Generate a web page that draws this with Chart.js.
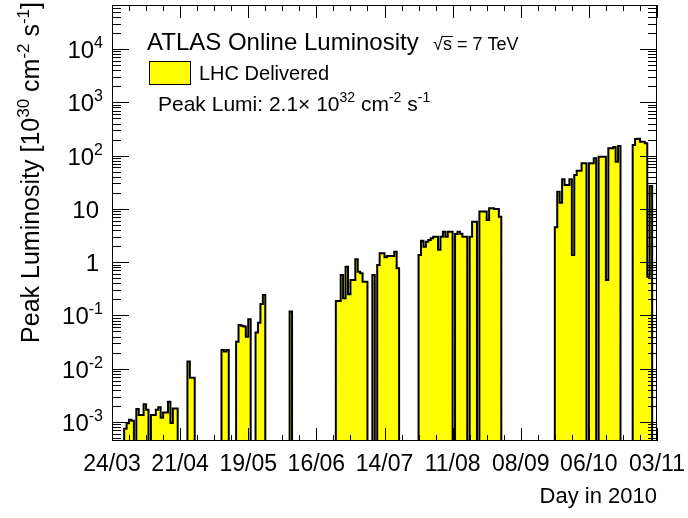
<!DOCTYPE html>
<html>
<head>
<meta charset="utf-8">
<title>ATLAS Online Luminosity 2010</title>
<script src="https://cdn.jsdelivr.net/npm/chart.js@4.4.1/dist/chart.umd.min.js"></script>
<style>
  html, body { margin: 0; padding: 0; background: #fff; }
  #wrap { width: 688px; height: 518px; position: relative; }
</style>
</head>
<body>
<div id="wrap"><canvas id="lumi"></canvas></div>
<script>
/* Peak luminosity per day, 2010 pp run at 7 TeV.
   Days are counted from 24/03 (day 0); days not listed had no stable beams. */
const TICK_LABELS = ['24/03', '21/04', '19/05', '16/06', '14/07', '11/08', '08/09', '06/10', '03/11'];
const LABEL_STEP = 28;   // days between labelled ticks
const MINOR_STEP = 7;
const N_DAYS = 224;

const BEAM_DAY = [
  5, 6, 7, 8,
  10, 11, 12, 13, 14,
  16, 17, 18, 19, 20, 21, 22, 23, 24, 25, 26,
  31, 32, 33,
  45, 46, 47,
  51, 52, 53, 54, 55, 56,
  59, 60, 61, 62,
  73,
  92, 93, 94, 95, 96, 97, 98, 99, 100, 101, 102, 103, 104,
  107,
  109, 110, 111, 112, 113, 114, 115, 116, 117,
  126, 127, 128, 129, 130, 131, 132, 133, 134, 135, 136, 137, 138, 139,
  141, 142, 143, 144, 145,
  147, 148, 149,
  151, 152, 153, 154, 155, 156, 157, 158, 159,
  182, 183, 184, 185, 186, 187, 188, 189, 190, 191, 192, 193, 194,
  196, 197, 198,
  200, 201, 202, 203, 204, 205, 206, 207, 208,
  214, 215, 216, 217, 218, 219, 220, 221
];
// [10^30 cm^-2 s^-1]
const PEAK_LUMI = [
  7.5e-4, 9.5e-4, 1.1e-3, 1.05e-3,
  1.75e-3, 1.35e-3, 1.35e-3, 2.15e-3, 1.7e-3,
  1.35e-3, 1.35e-3, 1.7e-3, 1.9e-3, 1.2e-3, 1.5e-3, 1.5e-3, 2.4e-3, 9.6e-4, 1.8e-3, 1.8e-3,
  0.0136, 0.0068, 0.0068,
  0.0225, 0.021, 0.0225,
  0.032, 0.066, 0.064, 0.062, 0.040, 0.085,
  0.048, 0.073, 0.164, 0.243,
  0.118,
  0.187, 0.187, 0.575, 0.21, 0.82, 0.25, 0.46, 0.46, 1.13, 0.66, 0.62, 0.43, 0.43,
  0.575,
  0.885, 1.47, 1.47, 1.24, 1.3, 1.3, 1.3, 1.57, 0.77,
  1.36, 2.53, 1.95, 2.42, 2.6, 2.8, 3.0, 3.0, 1.7, 3.0, 3.73, 3.0, 3.73, 3.73,
  3.38, 3.73, 3.4, 3.0, 3.0,
  3.0, 5.75, 5.75,
  8.9, 8.9, 8.9, 6.2, 10.3, 10.3, 9.9, 9.9, 7.1,
  4.5, 21, 13, 36, 28, 28, 36, 1.36, 43, 52, 52, 72, 72,
  72, 72, 89,
  95, 95, 95, 0.46, 137, 137, 145, 77, 151,
  158, 205, 207, 182, 182, 170, 0.53, 27
];

const Y_MIN = 4.4e-4;
const Y_MAX = 6.7e4;
const EMPTY = 1e-7;   // below the axis: empty days drop to the frame

const FONT = '"Liberation Sans", Arial, Helvetica, sans-serif';

// histogram outline: both edges of every day bin, so the steps are exact
const lumiByDay = new Array(N_DAYS).fill(EMPTY);
BEAM_DAY.forEach(function (d, i) { lumiByDay[d] = PEAK_LUMI[i]; });
const histPoints = [];
lumiByDay.forEach(function (v, d) {
  histPoints.push({ x: d, y: v });
  histPoints.push({ x: d + 1, y: v });
});

/* text with superscripts; parts = [[text, isSup], ...] */
function richWidth(ctx, parts, size) {
  let w = 0;
  parts.forEach(function (p) {
    ctx.font = (p[1] ? Math.round(size * 0.68) : size) + 'px ' + FONT;
    w += ctx.measureText(p[0]).width;
  });
  return w;
}

function drawRich(ctx, parts, x, y, size, align) {
  let cx = x;
  if (align === 'right') cx = x - richWidth(ctx, parts, size);
  else if (align === 'center') cx = x - richWidth(ctx, parts, size) / 2;
  ctx.textAlign = 'left';
  ctx.textBaseline = 'alphabetic';
  parts.forEach(function (p) {
    const sup = p[1];
    ctx.font = (sup ? Math.round(size * 0.68) : size) + 'px ' + FONT;
    ctx.fillText(p[0], cx, sup ? y - size * 0.42 : y);
    cx += ctx.measureText(p[0]).width;
  });
}

/* ROOT-style frame: ticks on all four sides pointing inwards, labels and captions */
const rootFrame = {
  id: 'rootFrame',
  afterDraw: function (chart) {
    const ctx = chart.ctx;
    const a = chart.chartArea;
    const xs = chart.scales.x;
    const ys = chart.scales.y;

    ctx.save();
    ctx.strokeStyle = '#000';
    ctx.fillStyle = '#000';
    ctx.lineWidth = 1;

    ctx.strokeRect(a.left + 0.5, a.top + 0.5, a.right - a.left - 1, a.bottom - a.top - 1);

    // y ticks: decades and 2..9 subdivisions
    ctx.beginPath();
    for (let e = -4; e <= 4; e++) {
      for (let m = 1; m <= 9; m++) {
        const v = m * Math.pow(10, e);
        if (v < Y_MIN || v > Y_MAX) continue;
        const py = Math.round(ys.getPixelForValue(v)) + 0.5;
        const len = m === 1 ? 17 : 9;
        ctx.moveTo(a.left, py); ctx.lineTo(a.left + len, py);
        ctx.moveTo(a.right, py); ctx.lineTo(a.right - len, py);
      }
    }
    // x ticks: weekly, longer every four weeks
    for (let d = 0; d <= N_DAYS; d += MINOR_STEP) {
      const px = Math.round(xs.getPixelForValue(d)) + 0.5;
      const len = d % LABEL_STEP === 0 ? 13 : 6;
      ctx.moveTo(px, a.bottom); ctx.lineTo(px, a.bottom - len);
      ctx.moveTo(px, a.top); ctx.lineTo(px, a.top + len);
    }
    ctx.stroke();

    // y tick labels
    for (let e = -3; e <= 4; e++) {
      const py = ys.getPixelForValue(Math.pow(10, e));
      if (e === 0 || e === 1) {
        drawRich(ctx, [[e === 0 ? '1' : '10', false]], 99, py + 9, 24, 'right');
      } else {
        drawRich(ctx, [['10', false], [String(e), true]], 103, py + 9, 24, 'right');
      }
    }

    // x tick labels
    TICK_LABELS.forEach(function (lab, i) {
      const px = xs.getPixelForValue(i * LABEL_STEP);
      drawRich(ctx, [[lab, false]], px, 471, 23, 'center');
    });

    // axis titles
    drawRich(ctx, [['Day in 2010', false]], a.right, 503, 22, 'right');

    ctx.save();
    ctx.translate(39, 2);
    ctx.rotate(-Math.PI / 2);
    drawRich(ctx, [
      ['Peak Luminosity [10', false], ['30', true], [' cm', false], ['-2', true],
      [' s', false], ['-1', true], [']', false]
    ], 0, 0, 25, 'right');
    ctx.restore();

    // caption
    drawRich(ctx, [['ATLAS Online Luminosity', false]], 147, 50, 24, 'left');

    ctx.font = '18px ' + FONT;
    ctx.textAlign = 'left';
    ctx.fillText('\u221A', 433, 50);
    const rootW = ctx.measureText('\u221A').width;
    const sW = ctx.measureText('s').width;
    ctx.fillText('s = 7 TeV', 433 + rootW, 50);
    ctx.beginPath();
    ctx.moveTo(433 + rootW - 1, 36.5);
    ctx.lineTo(433 + rootW + sW + 1, 36.5);
    ctx.stroke();

    // legend entry
    ctx.fillStyle = '#ffff00';
    ctx.fillRect(149, 61, 42, 24);
    ctx.strokeRect(149.5, 61.5, 41, 23);
    ctx.fillStyle = '#000';
    drawRich(ctx, [['LHC Delivered', false]], 199, 80, 20, 'left');

    drawRich(ctx, [
      ['Peak Lumi: 2.1\u00D7 10', false], ['32', true], [' cm', false], ['-2', true],
      [' s', false], ['-1', true]
    ], 158, 111, 21, 'left');

    ctx.restore();
  }
};

new Chart(document.getElementById('lumi'), {
  type: 'line',
  data: {
    datasets: [{
      data: histPoints,
      borderColor: '#000000',
      borderWidth: 2,
      borderJoinStyle: 'miter',
      backgroundColor: '#ffff00',
      fill: 'start',
      pointRadius: 0,
      tension: 0
    }]
  },
  options: {
    responsive: true,
    maintainAspectRatio: false,
    animation: false,
    devicePixelRatio: 1,
    layout: { padding: { left: 112, right: 31, top: 5, bottom: 77 } },
    plugins: { legend: { display: false }, tooltip: { enabled: false } },
    scales: {
      x: { type: 'linear', min: 0, max: N_DAYS, display: false },
      y: { type: 'logarithmic', min: Y_MIN, max: Y_MAX, display: false }
    }
  },
  plugins: [rootFrame]
});
</script>
</body>
</html>
